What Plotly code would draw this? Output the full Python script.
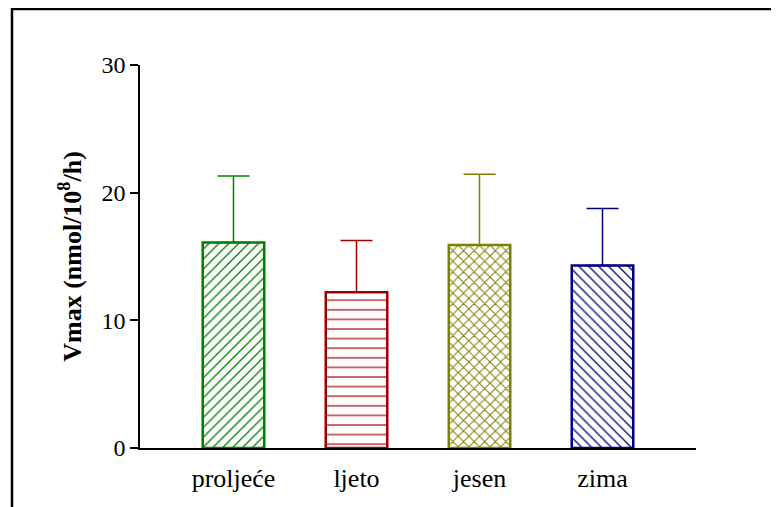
import plotly.graph_objects as go

categories = ["proljeće", "ljeto", "jesen", "zima"]
means = [16.1, 12.2, 15.9, 14.3]
sd_plus = [5.2, 4.05, 5.55, 4.45]
colors = ["#008000", "#A00000", "#808000", "#000080"]
patterns = ["/", "-", "x", "\\"]
pattern_sizes = [7, 9.6, 7.5, 7]
pattern_solidity = [0.18, 0.12, 0.25, 0.18]

fig = go.Figure()
for i, cat in enumerate(categories):
    fig.add_trace(go.Bar(
        x=[cat], y=[means[i]], width=0.5,
        marker=dict(
            color="white",
            line=dict(color=colors[i], width=2.5),
            pattern=dict(shape=patterns[i], fgcolor=colors[i], bgcolor="white",
                         size=pattern_sizes[i], solidity=pattern_solidity[i],
                         fgopacity=1, fillmode="overlay"),
        ),
        error_y=dict(type="data", symmetric=False, array=[sd_plus[i]], arrayminus=[0],
                     color=colors[i], thickness=1.5, width=16),
        showlegend=False,
    ))

W, H = 779, 507
ml, mt = 132, 57
pw, ph = 556, 383.5
mr = W - ml - pw
mb = H - mt - ph
bx0 = (4 - ml) / pw
by1 = (mt + ph - 1) / ph

fig.update_layout(
    width=W, height=H,
    margin=dict(l=ml, r=mr, t=mt, b=mb, pad=0),
    plot_bgcolor="white", paper_bgcolor="white",
    font=dict(family="Liberation Serif", size=24, color="black"),
    xaxis=dict(range=[-0.76, 3.76], showline=True, linecolor="black", linewidth=1.5,
               ticks="", showgrid=False, zeroline=False, ticklabelstandoff=6,
               tickfont=dict(size=26)),
    yaxis=dict(range=[0, 30], tickvals=[0, 10, 20, 30], showline=True, linecolor="black",
               linewidth=1.5, ticks="outside", ticklen=8, tickwidth=1.5, tickcolor="black",
               showgrid=False, zeroline=False, tickfont=dict(size=24),
               title=dict(text="<b>Vmax (nmol/10<sup>8</sup>/h)</b>", font=dict(size=26), standoff=12)),
    shapes=[dict(type="rect", xref="paper", yref="paper", x0=bx0, y0=-1, x1=2, y1=by1,
                 line=dict(color="black", width=2.5), fillcolor="rgba(0,0,0,0)", layer="above")],
)

fig.write_html("out.html")
